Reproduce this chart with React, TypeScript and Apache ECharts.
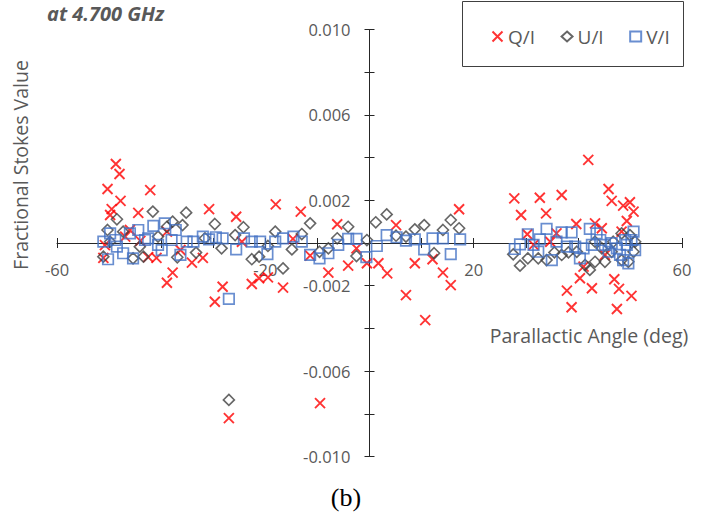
import React, { useEffect, useRef } from "react";
import * as echarts from "echarts";

const seriesNames = ["Q/I", "U/I", "V/I"];

const qiPoints: [number, number][] = [
  [-48.7, 0.0037], [-48.0, 0.00323], [-50.3, 0.00253], [-47.8, 0.00197], [-49.5, 0.00159],
  [-49.8, 0.00131], [-42.1, 0.00248], [-44.4, 0.00141], [-30.8, 0.00159], [-46.0, 0.00061],
  [-38.9, 0.00053], [-51.1, -0.0007], [-40.9, -0.0007], [-42.5, -0.00066], [-36.3, -0.00033],
  [-34.1, -0.00092], [-32.0, -0.0007], [-37.8, -0.00139], [-38.9, -0.00186], [-28.2, -0.00205],
  [-29.7, -0.00275], [-25.6, 0.00123], [-18.0, 0.00181], [-13.2, 0.00147], [-6.2, 0.00088],
  [-24.5, 0.00006], [-14.7, 0.00019], [-22.6, -0.00192], [-21.2, -0.00165], [-19.5, -0.00161],
  [-16.6, -0.00209], [-11.4, -0.00059], [-7.9, -0.00139], [-4.1, -0.00106], [-2.5, -0.00025],
  [17.2, 0.00158], [5.1, 0.00084], [-0.5, -0.00095], [1.7, -0.00095], [3.4, -0.00142],
  [8.7, -0.00095], [12.1, -0.00076], [14.1, -0.00139], [15.6, -0.00197], [7.0, -0.00244],
  [10.7, -0.00361], [-27.0, -0.0082], [-9.5, -0.0075], [-50.8, -0.0001], [-46.9, 0.0003],
  [-44.0, 0.0001],
  [42.0, 0.00389], [27.8, 0.00209], [32.7, 0.00212], [36.9, 0.00225], [29.1, 0.00131],
  [33.9, 0.00139], [45.9, 0.00253], [46.5, 0.00197], [48.7, 0.00175], [50.0, 0.00191],
  [50.7, 0.00147], [49.4, 0.00103], [39.7, 0.00089], [43.3, 0.00092], [44.6, 0.00069],
  [30.3, 0.00041], [35.9, 0.00045], [31.5, -0.00009], [34.7, 0.00006], [41.1, -0.00111],
  [40.4, -0.00165], [37.9, -0.00223], [42.7, -0.00212], [38.8, -0.00301], [47.0, -0.0017],
  [47.9, -0.00215], [50.3, -0.00248], [47.5, -0.00309], [48.4, 0.00053], [45.2, -0.00056],
];

const uiPoints: [number, number][] = [
  [-48.5, 0.00111], [-41.6, 0.00147], [-35.2, 0.00142], [-29.7, 0.00089], [-37.8, 0.001],
  [-35.9, 0.00084], [-38.9, 0.00076], [-50.3, 0.00061], [-28.4, -0.00025], [-36.9, -0.00067],
  [-33.3, -0.00045], [-31.6, 0.00022], [-43.4, -0.00064], [-45.4, -0.00072], [-51.1, -0.00064],
  [-40.6, 0.0003], [-47.3, 0.00053], [-49.8, 0.00006], [-44.1, -0.00017], [-24.2, 0.00074],
  [-25.8, 0.00037], [-22.6, -0.00076], [-21.2, -0.00064], [-19.5, -0.00014], [-18.1, 0.00053],
  [-16.6, -0.00119], [-14.9, -0.0003], [-13.0, 0.00042], [-11.4, 0.00092], [-9.6, -0.00041],
  [-7.9, -0.00025], [-6.2, 0.00022], [-4.1, 0.00076], [-2.5, -0.00061], [-0.5, 0.00014],
  [1.2, 0.00097], [3.3, 0.00134], [5.1, 0.00034], [7.0, 0.0003], [8.7, 0.00064],
  [10.5, 0.00084], [12.4, -0.00048], [14.1, 0.00061], [15.6, 0.00108], [17.2, 0.00069],
  [-27.0, -0.00735],
  [27.6, -0.00053], [28.9, -0.00106], [30.4, -0.00072], [32.4, -0.00072], [34.0, -0.0008],
  [35.5, -0.00044], [36.9, -0.00056], [38.2, -0.00044], [39.8, -0.00041], [41.4, -0.00103],
  [42.3, -0.00126], [43.3, -0.00088], [45.2, -0.00088], [46.5, -0.00041], [48.4, -0.0008],
  [49.7, -0.00088], [51.0, 0.00006], [48.4, 0.00045], [50.0, 0.00037], [46.8, 0.00006],
  [44.6, -0.00025], [43.3, 0.00006], [50.7, -0.00041],
];

const viPoints: [number, number][] = [
  [-51.1, 0.00006], [-50.2, -0.00076], [-49.8, 0.00045], [-48.5, -0.00017], [-47.3, -0.00048],
  [-45.4, -0.00072], [-46.0, 0.00045], [-44.4, 0.00061], [-43.1, 0.00014], [-41.5, 0.0008],
  [-39.3, 0.00092], [-40.6, -0.00009], [-39.9, -0.00033], [-37.2, 0.00061], [-38.0, 0.00014],
  [-36.3, -0.00056], [-35.1, 0.00006], [-33.8, 0.00006], [-32.0, 0.0003], [-30.8, 0.00017],
  [-29.5, 0.00027], [-28.2, 0.00022], [-27.0, -0.00262], [-42.5, 0.00022], [-48.8, 0.00014],
  [-25.6, -0.0003], [-24.1, 0.00022], [-22.6, 0.00006], [-21.0, 0.00006], [-19.6, -0.00052],
  [-18.1, 0.00006], [-16.6, 0.00022], [-14.6, 0.0003], [-13.0, 0.00006], [-11.4, -0.00056],
  [-9.6, -0.00072], [-7.9, -0.00048], [-6.0, -0.00009], [-4.1, 0.00019], [-2.5, 0.00019],
  [-0.6, -0.00066], [1.4, -0.00014], [3.3, 0.00037], [5.2, 0.00027], [7.0, 0.00011],
  [8.7, 0.00017], [10.5, -0.0003], [12.1, 0.00022], [14.1, 0.00022], [15.6, -0.00052],
  [17.4, 0.00017],
  [27.9, -0.00028], [28.9, -0.00006], [30.4, 0.00041], [31.5, -0.00009], [32.4, -0.00041],
  [32.7, 0.00017], [34.0, 0.00066], [35.0, -0.0008], [35.9, 0.00006], [36.9, 0.0005],
  [38.8, 0.0005], [37.9, -0.00017], [39.5, -0.00017], [40.4, -0.00072], [41.1, -0.00025],
  [42.3, 0.00066], [42.7, -0.00009], [43.6, 0.00045], [44.3, 0.00014], [45.2, -0.00009],
  [45.9, -0.00041], [46.5, -0.00001], [47.5, -0.00025], [48.1, -0.00056], [48.7, -0.0008],
  [49.4, -0.00009], [49.7, -0.00095], [50.3, 0.00014], [50.7, 0.00053], [51.0, -0.00033],
  [49.1, 0.00014],
];

const xTickLabels = [-60, -20, 20, 60];
const yTickLabels = [-0.01, -0.006, -0.002, 0.002, 0.006, 0.01];

const TEXT = "#595959";
const AXIS = "#262626";
const FONT = "'Open Sans', sans-serif";

// plot area in pixels
const GRID_LEFT = 57;
const GRID_RIGHT = 36;
const GRID_TOP = 29.5;
const GRID_BOTTOM = 63.5;
const W = 718;
const H = 520;
const PLOT_W = W - GRID_LEFT - GRID_RIGHT;
const PLOT_H = H - GRID_TOP - GRID_BOTTOM;
// axes cross at zero (middle of both ranges)
const Y_AXIS_OFFSET = -PLOT_W / 2;
const X_AXIS_OFFSET = -PLOT_H / 2;

export default function App() {
  const ref = useRef<HTMLDivElement>(null);

  useEffect(() => {
    document.body.style.margin = "0";
    if (!ref.current) return;
    const chart = echarts.init(ref.current, undefined, { renderer: "svg" });

    const xFmt = (v: number) =>
      xTickLabels.some((l) => Math.abs(l - v) < 1e-6) ? String(Math.round(v)) : "";
    const yFmt = (v: number) =>
      yTickLabels.some((l) => Math.abs(l - v) < 1e-9) ? v.toFixed(3) : "";

    const xBase = {
      type: "value", min: -60, max: 60, interval: 10, position: "bottom",
      offset: X_AXIS_OFFSET, splitLine: { show: false },
    };
    const yBase = {
      type: "value", min: -0.01, max: 0.01, interval: 0.002, position: "left",
      offset: Y_AXIS_OFFSET, splitLine: { show: false },
    };
    const tickStyle = { color: AXIS, width: 1 };

    chart.setOption({
      animation: false,
      grid: {
        left: GRID_LEFT, right: GRID_RIGHT, top: GRID_TOP, bottom: GRID_BOTTOM,
        containLabel: false, outerBoundsMode: "none",
      },
      xAxis: [
        {
          ...xBase,
          axisLine: { show: true, onZero: false, lineStyle: { color: AXIS, width: 1 } },
          axisTick: { show: true, inside: false, length: 5, lineStyle: tickStyle },
          axisLabel: { formatter: xFmt, margin: 18, color: TEXT, fontSize: 16.5, fontFamily: FONT, hideOverlap: false },
        },
        {
          ...xBase,
          axisLine: { show: false, onZero: false },
          axisTick: { show: true, inside: true, length: 5, lineStyle: tickStyle },
          axisLabel: { show: false },
        },
      ],
      yAxis: [
        {
          ...yBase,
          axisLine: { show: true, onZero: false, lineStyle: { color: AXIS, width: 1 } },
          axisTick: { show: true, inside: false, length: 5, lineStyle: tickStyle },
          axisLabel: { formatter: yFmt, margin: 19, color: TEXT, fontSize: 16.5, fontFamily: FONT, hideOverlap: false },
        },
        {
          ...yBase,
          axisLine: { show: false, onZero: false },
          axisTick: { show: true, inside: true, length: 5, lineStyle: tickStyle },
          axisLabel: { show: false },
        },
      ],
      legend: {
        data: seriesNames,
        left: 485,
        top: 22,
        itemWidth: 11,
        itemHeight: 10,
        itemGap: 24,
        textStyle: { fontSize: 19, color: TEXT, fontFamily: FONT },
      },
      series: [
        {
          name: seriesNames[0],
          type: "scatter",
          data: qiPoints,
          symbol: "path://M0,0L10,10M0,10L10,0",
          symbolSize: 10,
          itemStyle: { color: "none", borderColor: "#FF0000", borderWidth: 1.9 },
        },
        {
          name: seriesNames[1],
          type: "scatter",
          data: uiPoints,
          symbol: "diamond",
          symbolSize: 11,
          itemStyle: { color: "none", borderColor: "#404040", borderWidth: 1.6 },
        },
        {
          name: seriesNames[2],
          type: "scatter",
          data: viPoints,
          symbol: "rect",
          symbolSize: 10.5,
          itemStyle: { color: "none", borderColor: "#4472C4", borderWidth: 1.7 },
        },
      ],
      graphic: [
        {
          type: "rect",
          shape: { x: 462.5, y: 1.5, width: 221, height: 65 },
          style: { fill: "none", stroke: "#404040", lineWidth: 1 },
          z: 10,
        },
        {
          type: "text",
          style: {
            text: "at 4.700 GHz",
            x: 47,
            y: 3,
            fontSize: 20,
            fontWeight: "bold",
            fontStyle: "italic",
            fontFamily: FONT,
            fill: TEXT,
            verticalAlign: "top",
          },
        },
        {
          type: "text",
          rotation: Math.PI / 2,
          x: 20,
          y: 165,
          style: {
            text: "Fractional Stokes Value",
            x: 0,
            y: 0,
            fontSize: 19.5,
            fontFamily: FONT,
            fill: TEXT,
            align: "center",
            verticalAlign: "middle",
          },
        },
        {
          type: "text",
          style: {
            text: "Parallactic Angle (deg)",
            x: 589,
            y: 335,
            fontSize: 19.5,
            fontFamily: FONT,
            fill: TEXT,
            align: "center",
            verticalAlign: "middle",
          },
        },
        {
          type: "text",
          style: {
            text: "(b)",
            x: 346,
            y: 497,
            fontSize: 26,
            fontFamily: "'Liberation Serif', serif",
            fill: "#000",
            align: "center",
            verticalAlign: "middle",
          },
        },
      ],
    });

    return () => chart.dispose();
  }, []);

  return <div ref={ref} style={{ width: W, height: H }} />;
}
